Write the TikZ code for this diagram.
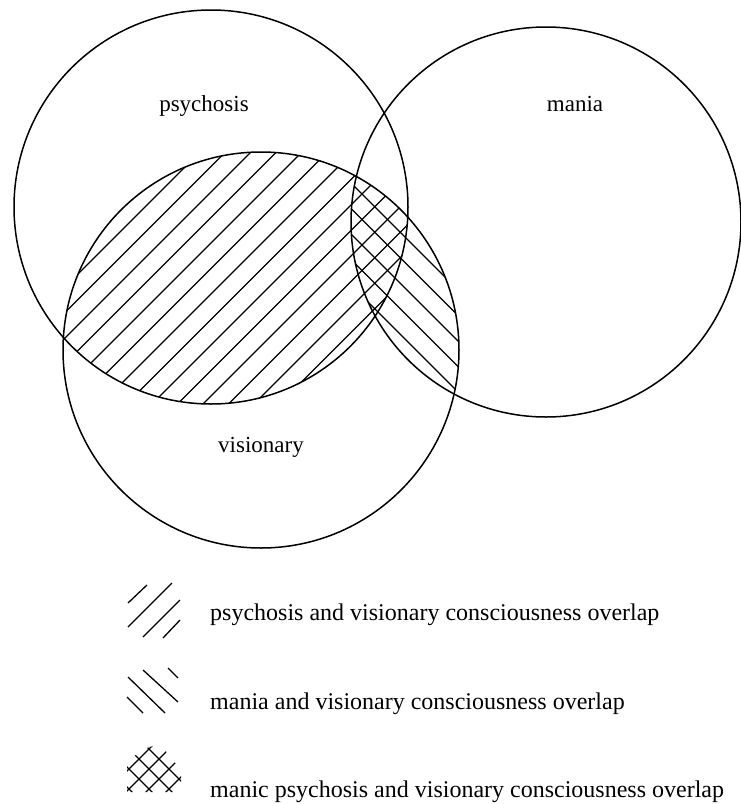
\documentclass[tikz,border=0pt]{standalone}
\usepackage{fontspec}
\setmainfont{Liberation Serif}
\begin{document}
\begin{tikzpicture}[x=1pt,y=-1pt,
  ring/.style={line width=1.5pt},
  hatch/.style={line width=1.3pt},
  lbl/.style={font=\fontsize{23}{27}\selectfont, inner sep=0pt, anchor=base},
  legtext/.style={font=\fontsize{24}{28}\selectfont, inner sep=0pt, anchor=base west}]
\useasboundingbox (0,0) rectangle (741,804);
% hatching psychosis & visionary (/)
\begin{scope}
  \clip (211,207) circle[radius=197];
  \clip (261,350) circle[radius=198];
  \foreach \k in {-8,...,20} {
    \draw[hatch] ({352+25.5*\k},0) -- ({352+25.5*\k-800},800);
  }
\end{scope}
% hatching mania & visionary (\)
\begin{scope}
  \clip (546,222) circle[radius=195];
  \clip (261,350) circle[radius=198];
  \foreach \k in {-8,...,12} {
    \draw[hatch] ({66+25.5*\k},0) -- ({66+25.5*\k+800},800);
  }
\end{scope}
% circles
\draw[ring] (211,207) circle[radius=197];
\draw[ring] (546,222) circle[radius=195];
\draw[ring] (261,350) circle[radius=198];
% labels
\node[lbl] (psy) at (204,111) {psychosis};
\node[lbl] (man) at (575,111) {mania};
\node[lbl] (vis) at (261,452) {visionary};
% legend symbol 1
\draw[hatch] (128,603) -- (147,585);
\draw[hatch] (128,627) -- (172,583);
\draw[hatch] (143,637) -- (180,600);
\draw[hatch] (163,638) -- (180,620);
% legend symbol 2
\draw[hatch] (143,670) -- (178,702);
\draw[hatch] (168,668) -- (178,678);
\draw[hatch] (128,677) -- (165,713);
\draw[hatch] (127,697) -- (143,713);
% legend symbol 3
\begin{scope}
  \clip (127,762) -- (143,749) -- (160,744) -- (181,770) -- (181,792) -- (127,792) -- cycle;
  \foreach \k in {0,...,7} {
    \draw[hatch] ({878+20*\k},0) -- ({878+20*\k-900},900);
    \draw[hatch] ({-660+20*\k},0) -- ({-660+20*\k+900},900);
  }
\end{scope}
% legend texts
\node[legtext] (t1) at (210,620) {psychosis and visionary consciousness overlap};
\node[legtext] (t2) at (210,709) {mania and visionary consciousness overlap};
\node[legtext] (t3) at (210,797) {manic psychosis and visionary consciousness overlap};
\end{tikzpicture}
\end{document}
